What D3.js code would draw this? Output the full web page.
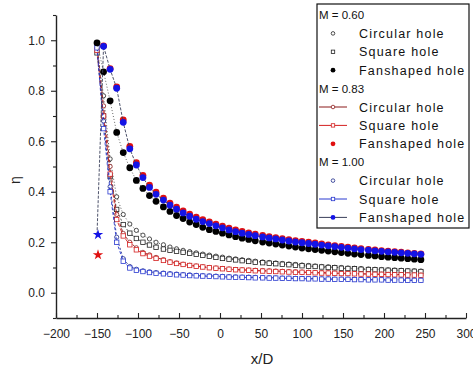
<!DOCTYPE html>
<html>
<head>
<meta charset="utf-8">
<script src="https://cdn.jsdelivr.net/npm/d3@7"></script>
<style>
  html, body { margin: 0; padding: 0; background: #fff; }
  svg { display: block; font-family: "Liberation Sans", Arial, sans-serif; }
</style>
</head>
<body>
<svg id="chart" width="473" height="369"></svg>
<script>
// Streamwise positions x/D of the measurement points
const xPositions = [-150, -142, -134, -126, -118, -110, -102, -94, -86, -78,
  -69, -61, -53, -45, -37, -29, -21, -13, -5, 3,
  11, 19, 27, 35, 43, 52, 60, 68, 76, 84,
  92, 100, 108, 116, 124, 132, 140, 148, 156, 164,
  172, 181, 189, 197, 205, 213, 221, 229, 237, 245];

// Laterally averaged film cooling effectiveness η
const m060Circular = [0.97, 0.78, 0.53, 0.38, 0.31, 0.272, 0.247, 0.228, 0.213, 0.2,
  0.19, 0.181, 0.174, 0.168, 0.163, 0.158, 0.153, 0.149, 0.145, 0.141,
  0.137, 0.134, 0.131, 0.128, 0.125, 0.122, 0.12, 0.118, 0.116, 0.114,
  0.112, 0.11, 0.108, 0.106, 0.104, 0.103, 0.101, 0.1, 0.098, 0.097,
  0.096, 0.094, 0.093, 0.092, 0.091, 0.09, 0.089, 0.088, 0.087, 0.086];
const m060Square = [0.95, 0.7, 0.46, 0.33, 0.27, 0.236, 0.215, 0.2, 0.189, 0.18,
  0.173, 0.168, 0.164, 0.16, 0.156, 0.152, 0.148, 0.144, 0.14, 0.136,
  0.133, 0.13, 0.127, 0.124, 0.121, 0.119, 0.117, 0.115, 0.113, 0.111,
  0.109, 0.107, 0.105, 0.104, 0.102, 0.1, 0.099, 0.097, 0.096, 0.095,
  0.093, 0.092, 0.091, 0.09, 0.089, 0.088, 0.087, 0.086, 0.085, 0.084];
const m060Fan = [0.99, 0.875, 0.76, 0.635, 0.555, 0.495, 0.445, 0.413, 0.385, 0.362,
  0.34, 0.322, 0.306, 0.294, 0.28, 0.27, 0.259, 0.25, 0.243, 0.236,
  0.229, 0.222, 0.216, 0.211, 0.206, 0.201, 0.197, 0.193, 0.189, 0.185,
  0.181, 0.177, 0.174, 0.171, 0.168, 0.165, 0.162, 0.159, 0.156, 0.153,
  0.151, 0.148, 0.146, 0.143, 0.141, 0.139, 0.137, 0.135, 0.133, 0.131];

const m083Circular = [0.98, 0.74, 0.5, 0.31, 0.235, 0.2, 0.178, 0.16, 0.15, 0.14,
  0.131, 0.123, 0.118, 0.113, 0.109, 0.106, 0.103, 0.1, 0.098, 0.096,
  0.094, 0.092, 0.091, 0.09, 0.089, 0.088, 0.087, 0.086, 0.085, 0.084,
  0.083, 0.082, 0.081, 0.08, 0.08, 0.079, 0.078, 0.077, 0.077, 0.076,
  0.075, 0.075, 0.074, 0.073, 0.073, 0.072, 0.072, 0.071, 0.071, 0.07];
const m083Square = [0.96, 0.7, 0.47, 0.29, 0.225, 0.19, 0.17, 0.155, 0.145, 0.136,
  0.128, 0.121, 0.116, 0.112, 0.108, 0.105, 0.102, 0.099, 0.097, 0.095,
  0.093, 0.091, 0.09, 0.089, 0.087, 0.086, 0.085, 0.084, 0.083, 0.082,
  0.081, 0.081, 0.08, 0.079, 0.078, 0.078, 0.077, 0.076, 0.076, 0.075,
  0.074, 0.074, 0.073, 0.073, 0.072, 0.071, 0.071, 0.07, 0.07, 0.069];
const m083Fan = [0.15, 0.978, 0.888, 0.815, 0.685, 0.58, 0.515, 0.465, 0.426, 0.398,
  0.375, 0.355, 0.339, 0.324, 0.311, 0.299, 0.29, 0.281, 0.272, 0.264,
  0.256, 0.249, 0.243, 0.237, 0.232, 0.227, 0.222, 0.218, 0.214, 0.21,
  0.206, 0.203, 0.2, 0.197, 0.193, 0.19, 0.187, 0.184, 0.181, 0.178,
  0.175, 0.172, 0.17, 0.167, 0.165, 0.163, 0.161, 0.158, 0.156, 0.154];

const m100Circular = [0.98, 0.68, 0.42, 0.22, 0.135, 0.104, 0.093, 0.087, 0.083, 0.08,
  0.078, 0.076, 0.074, 0.072, 0.071, 0.069, 0.068, 0.067, 0.066, 0.065,
  0.064, 0.063, 0.062, 0.062, 0.061, 0.06, 0.06, 0.059, 0.058, 0.058,
  0.057, 0.057, 0.056, 0.056, 0.055, 0.055, 0.054, 0.054, 0.054, 0.053,
  0.053, 0.052, 0.052, 0.052, 0.051, 0.051, 0.051, 0.05, 0.05, 0.05];
const m100Square = [0.97, 0.65, 0.4, 0.2, 0.125, 0.098, 0.089, 0.084, 0.08, 0.077,
  0.075, 0.073, 0.071, 0.07, 0.068, 0.067, 0.066, 0.065, 0.064, 0.063,
  0.062, 0.061, 0.061, 0.06, 0.059, 0.059, 0.058, 0.058, 0.057, 0.057,
  0.056, 0.056, 0.055, 0.055, 0.054, 0.054, 0.053, 0.053, 0.053, 0.052,
  0.052, 0.051, 0.051, 0.051, 0.05, 0.05, 0.05, 0.049, 0.049, 0.049];
const m100Fan = [0.23, 0.976, 0.885, 0.81, 0.675, 0.57, 0.506, 0.456, 0.417, 0.39,
  0.367, 0.347, 0.331, 0.316, 0.303, 0.291, 0.282, 0.274, 0.265, 0.257,
  0.249, 0.242, 0.236, 0.231, 0.226, 0.221, 0.217, 0.213, 0.209, 0.205,
  0.201, 0.198, 0.195, 0.192, 0.189, 0.186, 0.183, 0.18, 0.177, 0.174,
  0.171, 0.169, 0.166, 0.164, 0.162, 0.16, 0.158, 0.156, 0.154, 0.152];

// Axis ticks
const xTickValues = [-200, -150, -100, -50, 0, 50, 100, 150, 200, 250, 300];
const xMinorValues = [-175, -125, -75, -25, 25, 75, 125, 175, 225, 275];
const yTickValues = [0.0, 0.2, 0.4, 0.6, 0.8, 1.0];
const yMinorValues = [-0.1, 0.1, 0.3, 0.5, 0.7, 0.9, 1.1];

const groupLabels = ["M = 0.60", "M = 0.83", "M = 1.00"];
const holeLabels = ["Circular hole", "Square hole", "Fanshaped hole"];

// Drawing styles for each curve
const series = [
  { group: 0, hole: 0, values: m060Circular, color: "#222", line: "1,2", lineColor: "#444", marker: "circle", legendLine: false },
  { group: 0, hole: 1, values: m060Square,   color: "#222", line: "2,2", lineColor: "#444", marker: "square", legendLine: false },
  { group: 1, hole: 0, values: m083Circular, color: "#8b1a1a", line: "3,2", lineColor: "#8b1a1a", marker: "circle", legendLine: true },
  { group: 1, hole: 1, values: m083Square,   color: "#d42020", line: "4,2", lineColor: "#d42020", marker: "square", legendLine: true },
  { group: 2, hole: 0, values: m100Circular, color: "#1c2a8a", line: "2,2", lineColor: "#1c2a8a", marker: "circle", legendLine: false },
  { group: 2, hole: 1, values: m100Square,   color: "#2a3ad0", line: "3,2", lineColor: "#2a3ad0", marker: "square", legendLine: true },
  { group: 0, hole: 2, values: m060Fan, color: "#000", line: "1,2", lineColor: "#555", marker: "dot", legendLine: false },
  { group: 1, hole: 2, values: m083Fan, color: "#e01010", line: null, lineColor: null, marker: "dot", legendLine: false, inlet: true },
  { group: 2, hole: 2, values: m100Fan, color: "#1414e6", line: "3,1.5", lineColor: "#3a3f5a", marker: "dot", legendLine: true, inlet: true }
];

const svg = d3.select("#chart");
const x = d3.scaleLinear().domain([-200, 300]).range([56, 466]);
const y = d3.scaleLinear().domain([-0.1, 1.1]).range([318, 15]);

// Axes
svg.append("g").attr("transform", "translate(56,0)")
  .call(d3.axisLeft(y).tickValues(yTickValues).tickFormat(d3.format(".1f"))
    .tickSize(5).tickSizeOuter(0).tickPadding(6));
svg.append("g").attr("transform", "translate(56,0)")
  .call(d3.axisLeft(y).tickValues(yMinorValues).tickFormat("").tickSize(3).tickSizeOuter(0))
  .select(".domain").remove();
svg.append("g").attr("transform", "translate(0,318)")
  .call(d3.axisBottom(x).tickValues(xTickValues).tickFormat(d3.format("d"))
    .tickSize(-5).tickSizeOuter(0).tickPadding(11));
svg.append("g").attr("transform", "translate(0,318)")
  .call(d3.axisBottom(x).tickValues(xMinorValues).tickFormat("").tickSize(-3).tickSizeOuter(0))
  .select(".domain").remove();
svg.selectAll(".domain").attr("stroke", "#222").attr("stroke-width", 1.4);
svg.selectAll(".tick line").attr("stroke", "#222").attr("stroke-width", 1.1);
svg.selectAll(".tick text").attr("font-size", 12).attr("fill", "#222")
  .attr("font-family", "Liberation Sans, Arial, sans-serif");

// Axis titles
svg.append("text").attr("x", 262).attr("y", 364).attr("text-anchor", "middle")
  .attr("font-size", 15).attr("fill", "#222").text("x/D");
svg.append("text").attr("transform", "translate(20,180) rotate(-90)")
  .attr("text-anchor", "middle").attr("font-size", 14).attr("fill", "#222").text("η");

// Curves
const plot = svg.append("g");

function drawMarker(sel, s, size) {
  if (s.marker === "dot") {
    sel.append("circle").attr("r", size === "legend" ? 2.4 : 3.4)
      .attr("fill", s.color).attr("stroke", "none");
  } else if (s.marker === "circle") {
    sel.append("circle").attr("r", size === "legend" ? 1.8 : 2.1)
      .attr("fill", "#fff").attr("stroke", s.color).attr("stroke-width", 0.8);
  } else {
    const h = size === "legend" ? 3.4 : 4.4;
    sel.append("rect").attr("x", -h / 2).attr("y", -h / 2).attr("width", h).attr("height", h)
      .attr("fill", "#fff").attr("stroke", s.color).attr("stroke-width", 0.8);
  }
}

series.forEach(s => {
  const pts = s.values.map((v, i) => [xPositions[i], v]);
  if (s.line) {
    plot.append("path")
      .attr("d", d3.line().x(d => x(d[0])).y(d => y(d[1]))(pts))
      .attr("fill", "none").attr("stroke", s.lineColor).attr("stroke-width", 0.9)
      .attr("stroke-dasharray", s.line);
  }
  const markerPts = s.inlet ? pts.slice(1) : pts;
  const g = plot.append("g");
  markerPts.forEach(p => {
    const m = g.append("g").attr("transform", `translate(${x(p[0])},${y(p[1])})`);
    drawMarker(m, s, "plot");
  });
  if (s.inlet) {
    // value at the hole exit is drawn as a star
    plot.append("path")
      .attr("transform", `translate(${x(pts[0][0]) + 1},${y(pts[0][1])})`)
      .attr("d", d3.symbol().type(d3.symbolStar).size(34)())
      .attr("fill", s.color);
  }
});

// Legend
const lg = svg.append("g");
lg.append("rect").attr("x", 317).attr("y", 4).attr("width", 152).attr("height", 224)
  .attr("fill", "#fff").attr("stroke", "#111").attr("stroke-width", 1.2);
const rowH = 18.4;
let row = 0;
groupLabels.forEach((gl, gi) => {
  const cy = 15 + row * rowH;
  lg.append("text").attr("x", 319).attr("y", cy + 4).attr("font-size", 11.5)
    .attr("fill", "#111").text(gl);
  row++;
  series.filter(s => s.group === gi).sort((a, b) => a.hole - b.hole).forEach(s => {
    const ry = 15 + row * rowH;
    if (s.legendLine) {
      lg.append("line").attr("x1", 319).attr("x2", 347).attr("y1", ry).attr("y2", ry)
        .attr("stroke", s.lineColor).attr("stroke-width", 1);
    }
    const m = lg.append("g").attr("transform", `translate(333,${ry})`);
    drawMarker(m, s, "legend");
    lg.append("text").attr("x", 359).attr("y", ry + 4.5).attr("font-size", 12.5)
      .attr("letter-spacing", 1.2).attr("fill", "#111").text(holeLabels[s.hole]);
    row++;
  });
});
</script>
</body>
</html>
